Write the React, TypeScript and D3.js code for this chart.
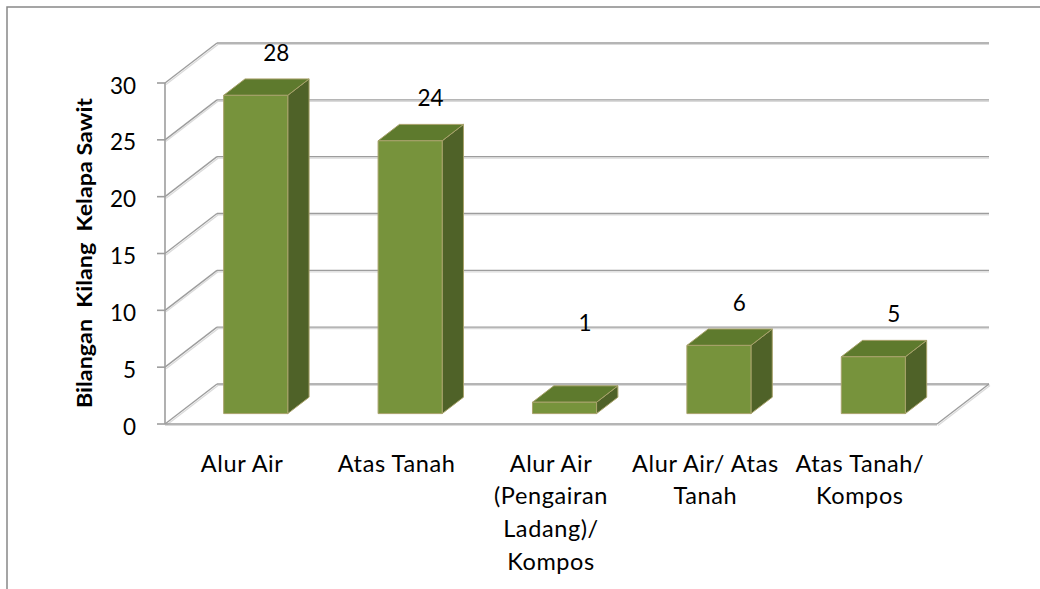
import React from "react";
import * as d3 from "d3";

const categories = [
  "Alur Air",
  "Atas Tanah",
  "Alur Air\n(Pengairan\nLadang)/\nKompos",
  "Alur Air/ Atas\nTanah",
  "Atas Tanah/\nKompos",
];
const values = [28, 24, 1, 6, 5];
const yTicks = [0, 5, 10, 15, 20, 25, 30];
const yTitle = "Bilangan  Kilang  Kelapa Sawit";

const W = 1040;
const H = 589;
const DX = 52;
const DY = -40;
const Z0 = 0.26;
const Z1 = 0.67;
const FONT = "Lato, 'Open Sans', sans-serif";

export default function App() {
  const x = d3.scaleBand<string>().domain(categories).range([165, 937]);
  const y = d3.scaleLinear().domain([0, 30]).range([424, 83]);
  const bw = x.bandwidth();
  const barW = bw * 0.415;
  const x0 = x.range()[0];
  const x1 = x.range()[1];
  const y0 = y(0);

  const pt = (px: number, v: number, z: number) => [px + z * DX, y(v) + z * DY];
  const poly = (pts: number[][]) => pts.map((p) => p.join(",")).join(" ");

  const gridColor = "#9d9d9d";
  const shadow = "#dadada";

  return (
    <svg
      width={W}
      height={H}
      style={{ position: "absolute", left: 0, top: 0, background: "#fff" }}
      fontFamily={FONT}
    >
      <rect x={7} y={7} width={W + 20} height={H + 20} fill="#fff" stroke="#888" strokeWidth={1.5} />

      {/* gridlines: left wall diagonals and back wall */}
      {yTicks.map((t) => {
        const yy = y(t);
        return (
          <g key={"g" + t}>
            <line x1={x0 + 1} y1={yy + 1.5} x2={x0 + DX + 1} y2={yy + DY + 1.5} stroke={shadow} strokeWidth={1.2} />
            <line x1={x0 + DX} y1={yy + DY + 1.5} x2={x1 + DX} y2={yy + DY + 1.5} stroke={shadow} strokeWidth={1.2} />
            <line x1={x0} y1={yy} x2={x0 + DX} y2={yy + DY} stroke={gridColor} strokeWidth={1.4} />
            <line x1={x0 + DX} y1={yy + DY} x2={x1 + DX} y2={yy + DY} stroke={gridColor} strokeWidth={1.4} />
          </g>
        );
      })}
      {/* floor front and right edges */}
      <line x1={x0} y1={y0 + 1.5} x2={x1} y2={y0 + 1.5} stroke={shadow} strokeWidth={1.2} />
      <line x1={x0} y1={y0} x2={x1} y2={y0} stroke={gridColor} strokeWidth={1.4} />
      <line x1={x1 + 1} y1={y0 + 1.5} x2={x1 + DX + 1} y2={y0 + DY + 1.5} stroke={shadow} strokeWidth={1.2} />
      <line x1={x1} y1={y0} x2={x1 + DX} y2={y0 + DY} stroke={gridColor} strokeWidth={1.4} />

      {/* y axis */}
      <line x1={x0} y1={y(30)} x2={x0} y2={y0} stroke={gridColor} strokeWidth={1.6} />
      {yTicks.map((t) => (
        <g key={"t" + t}>
          <line x1={x0 - 8} y1={y(t)} x2={x0} y2={y(t)} stroke={gridColor} strokeWidth={1.6} />
          <text x={136} y={y(t) + 2} textAnchor="end" dominantBaseline="central" fontSize={22.5} fill="#000">
            {t}
          </text>
        </g>
      ))}

      {/* bars */}
      {categories.map((c, i) => {
        const v = values[i];
        const cx = (x(c) as number) + bw / 2;
        const l = cx - barW / 2;
        const r = cx + barW / 2;
        const front = [pt(l, v, Z0), pt(r, v, Z0), pt(r, 0, Z0), pt(l, 0, Z0)];
        const top = [pt(l, v, Z0), pt(r, v, Z0), pt(r, v, Z1), pt(l, v, Z1)];
        const side = [pt(r, v, Z0), pt(r, v, Z1), pt(r, 0, Z1), pt(r, 0, Z0)];
        const frontTop = y(v) + Z0 * DY;
        const ly = Math.min(frontTop - 43, y0 - 102);
        return (
          <g key={"b" + i}>
            <polygon points={poly(side)} fill="#4f6228" stroke="#a8a26b" strokeWidth={1} strokeLinejoin="round" />
            <polygon points={poly(top)} fill="#5e7a2d" stroke="#a8a26b" strokeWidth={1} strokeLinejoin="round" />
            <polygon points={poly(front)} fill="#77933c" stroke="#a8a26b" strokeWidth={1} strokeLinejoin="round" />
            <text x={cx + 34} y={ly} textAnchor="middle" dominantBaseline="central" fontSize={22.5} fill="#000">
              {v}
            </text>
          </g>
        );
      })}

      {/* x labels */}
      {categories.map((c) => {
        const cx = (x(c) as number) + bw / 2;
        return (
          <text key={"x" + c} x={cx} y={471.5} textAnchor="middle" fontSize={23.5} letterSpacing={0.6} fill="#000">
            {c.split("\n").map((line, j) => (
              <tspan key={j} x={cx} dy={j === 0 ? 0 : 32.7} style={{ whiteSpace: "pre" }}>
                {line}
              </tspan>
            ))}
          </text>
        );
      })}

      {/* y title */}
      <text
        transform={`translate(92,253) rotate(-90)`}
        textAnchor="middle"
        fontSize={20}
        fontWeight="bold"
        fill="#000"
        style={{ whiteSpace: "pre" }}
        textLength={310}
        lengthAdjust="spacingAndGlyphs"
      >
        {yTitle}
      </text>
    </svg>
  );
}
